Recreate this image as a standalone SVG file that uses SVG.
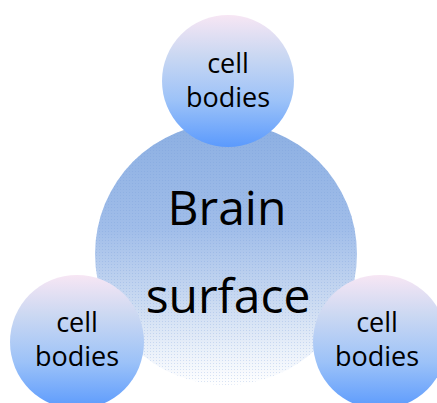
<svg xmlns="http://www.w3.org/2000/svg" width="437" height="403" viewBox="0 0 437 403">
  <defs>
    <linearGradient id="bigGrad" x1="0" y1="0" x2="0" y2="1">
      <stop offset="0" stop-color="#8cafe2"/>
      <stop offset="0.4" stop-color="#a0bde9"/>
      <stop offset="0.7" stop-color="#cddcf2"/>
      <stop offset="0.9" stop-color="#eff4fb"/>
      <stop offset="1" stop-color="#ffffff"/>
    </linearGradient>
    <linearGradient id="smallGrad" x1="0" y1="0" x2="0" y2="1">
      <stop offset="0" stop-color="#f7e6f4"/>
      <stop offset="0.3" stop-color="#cbd8f2"/>
      <stop offset="0.65" stop-color="#9cc2f8"/>
      <stop offset="1" stop-color="#5b9afd"/>
    </linearGradient>
    <pattern id="dither" width="3" height="3" patternUnits="userSpaceOnUse">
      <rect x="0" y="0" width="1" height="1" fill="#6f98d8" fill-opacity="0.25"/>
    </pattern>
  </defs>
  <style>
    .small { fill: url(#smallGrad); }
    .big { fill: url(#bigGrad); }
    .lbl { font-family: "Open Sans", "Lato", sans-serif; fill: #000000; text-anchor: middle; }
    .s { font-size: 27px; }
    .b { font-size: 48px; }
  </style>
  <g id="connectors"></g>
  <g id="brain-surface">
    <circle class="big" cx="226" cy="254" r="131"/>
    <circle cx="226" cy="254" r="131" fill="url(#dither)"/>
    <text class="lbl b" x="227" y="225">Brain</text>
    <text class="lbl b" x="228" y="313">surface</text>
  </g>
  <g id="cell-bodies-top">
    <circle class="small" cx="228" cy="81" r="66"/>
    <text class="lbl s" x="228" y="73">cell</text>
    <text class="lbl s" x="228" y="107">bodies</text>
  </g>
  <g id="cell-bodies-left">
    <circle class="small" cx="77" cy="342" r="67"/>
    <text class="lbl s" x="77" y="332">cell</text>
    <text class="lbl s" x="77" y="366">bodies</text>
  </g>
  <g id="cell-bodies-right">
    <circle class="small" cx="380" cy="342" r="67"/>
    <text class="lbl s" x="377" y="332">cell</text>
    <text class="lbl s" x="377" y="366">bodies</text>
  </g>
</svg>
